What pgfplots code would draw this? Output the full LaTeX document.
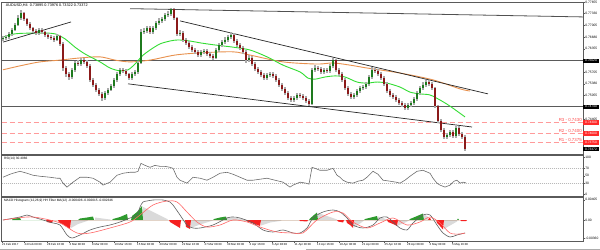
\documentclass[border=0pt]{standalone}
\usepackage{fontspec}
\setmainfont{Liberation Sans}
\usepackage{pgfplots}
\usepackage{pgfplotstable}
\pgfplotsset{compat=1.18}

\definecolor{candleup}{HTML}{1E7A1E}
\definecolor{candledn}{HTML}{8B1A1A}
\definecolor{wick}{HTML}{AAAAAA}
\definecolor{magreen}{HTML}{33DD33}
\definecolor{maorange}{HTML}{E8914E}
\definecolor{rline}{HTML}{FF9A9A}
\definecolor{rtext}{HTML}{FF4A4A}
\definecolor{rbox}{HTML}{FF2A2A}
\definecolor{histgreen}{HTML}{2E9A2E}
\definecolor{histred}{HTML}{F52020}
\definecolor{histgray}{HTML}{DADADA}
\definecolor{frame}{HTML}{5A5A5A}
\definecolor{trend}{HTML}{262626}

\pgfplotstableread{
x o c h l
3 .7663 .7665 .7671 .7656
6 .7665 .7668 .7675 .7660
9 .7668 .7677 .7683 .7664
12 .7677 .7688 .7694 .7672
15 .7688 .7702 .7708 .7684
18 .7702 .7721 .7728 .7698
21 .7721 .7735 .7742 .7716
24 .7735 .7718 .7739 .7712
27 .7718 .7704 .7722 .7698
30 .7704 .7693 .7709 .7688
33 .7693 .7685 .7697 .7679
36 .7685 .7679 .7690 .7673
39 .7679 .7688 .7694 .7675
42 .7688 .7682 .7693 .7677
45 .7682 .7674 .7686 .7668
48 .7674 .7668 .7679 .7662
51 .7668 .7665 .7673 .7659
54 .7665 .7660 .7670 .7654
57 .7660 .7671 .7677 .7656
60 .7671 .7649 .7675 .7643
63 .7649 .7582 .7653 .7575
66 .7582 .7565 .7588 .7558
69 .7565 .7557 .7570 .7550
72 .7557 .7577 .7582 .7552
75 .7577 .7596 .7601 .7572
78 .7596 .7593 .7603 .7587
81 .7593 .7604 .7610 .7588
84 .7604 .7599 .7609 .7593
87 .7599 .7588 .7603 .7582
90 .7588 .7549 .7592 .7543
93 .7549 .7535 .7554 .7529
96 .7535 .7521 .7540 .7515
99 .7521 .7510 .7526 .7504
102 .7510 .7499 .7514 .7490
105 .7499 .7513 .7518 .7494
108 .7513 .7521 .7527 .7508
111 .7521 .7532 .7538 .7517
114 .7532 .7549 .7555 .7527
117 .7549 .7565 .7571 .7544
120 .7565 .7577 .7583 .7560
123 .7577 .7574 .7582 .7568
126 .7574 .7565 .7579 .7559
129 .7565 .7554 .7569 .7548
132 .7554 .7565 .7571 .7549
135 .7565 .7571 .7577 .7560
138 .7571 .7596 .7602 .7566
141 .7596 .7682 .7690 .7592
144 .7682 .7685 .7693 .7676
147 .7685 .7693 .7700 .7679
150 .7693 .7682 .7698 .7676
153 .7682 .7693 .7699 .7677
156 .7693 .7707 .7713 .7688
159 .7707 .7713 .7720 .7701
162 .7713 .7718 .7725 .7708
165 .7718 .7729 .7736 .7713
168 .7729 .7732 .7740 .7723
171 .7732 .7746 .7750 .7727
174 .7746 .7721 .7749 .7715
177 .7721 .7677 .7725 .7670
180 .7677 .7679 .7687 .7671
183 .7679 .7660 .7684 .7654
186 .7660 .7652 .7665 .7646
189 .7652 .7640 .7657 .7634
192 .7640 .7632 .7645 .7626
195 .7632 .7627 .7638 .7621
198 .7627 .7618 .7632 .7612
201 .7618 .7627 .7633 .7613
204 .7627 .7629 .7636 .7622
207 .7629 .7621 .7634 .7615
210 .7621 .7615 .7626 .7609
213 .7615 .7610 .7620 .7603
216 .7610 .7632 .7638 .7606
219 .7632 .7646 .7652 .7627
222 .7646 .7654 .7660 .7641
225 .7654 .7660 .7667 .7649
228 .7660 .7668 .7675 .7655
231 .7668 .7674 .7681 .7663
234 .7674 .7657 .7679 .7651
237 .7657 .7646 .7662 .7640
240 .7646 .7638 .7651 .7632
243 .7638 .7627 .7643 .7621
246 .7627 .7604 .7631 .7597
249 .7604 .7610 .7617 .7599
252 .7610 .7593 .7615 .7587
255 .7593 .7579 .7598 .7573
258 .7579 .7571 .7584 .7565
261 .7571 .7563 .7576 .7557
264 .7563 .7554 .7568 .7548
267 .7554 .7563 .7569 .7549
270 .7563 .7565 .7572 .7557
273 .7565 .7560 .7571 .7555
276 .7560 .7549 .7565 .7543
279 .7549 .7535 .7554 .7529
282 .7535 .7524 .7540 .7518
285 .7524 .7513 .7529 .7507
288 .7513 .7499 .7518 .7493
291 .7499 .7493 .7504 .7487
294 .7493 .7499 .7505 .7488
297 .7499 .7507 .7513 .7494
300 .7507 .7504 .7512 .7498
303 .7504 .7499 .7509 .7493
306 .7499 .7490 .7504 .7485
309 .7490 .7482 .7495 .7477
312 .7482 .7577 .7583 .7479
315 .7577 .7582 .7589 .7571
318 .7582 .7579 .7587 .7573
321 .7579 .7571 .7584 .7565
324 .7571 .7577 .7583 .7566
327 .7577 .7574 .7582 .7568
330 .7574 .7588 .7594 .7569
333 .7588 .7604 .7610 .7583
336 .7604 .7577 .7608 .7571
339 .7577 .7565 .7582 .7559
342 .7565 .7549 .7570 .7543
345 .7549 .7526 .7554 .7520
348 .7526 .7510 .7531 .7504
351 .7510 .7501 .7515 .7495
354 .7501 .7507 .7513 .7496
357 .7507 .7518 .7524 .7502
360 .7518 .7526 .7532 .7513
363 .7526 .7529 .7536 .7521
366 .7529 .7538 .7544 .7524
369 .7538 .7557 .7563 .7533
372 .7557 .7577 .7584 .7552
375 .7577 .7574 .7582 .7568
378 .7574 .7565 .7579 .7559
381 .7565 .7554 .7570 .7548
384 .7554 .7538 .7559 .7532
387 .7538 .7518 .7543 .7512
390 .7518 .7507 .7523 .7501
393 .7507 .7501 .7512 .7495
396 .7501 .7493 .7506 .7487
399 .7493 .7485 .7498 .7479
402 .7485 .7479 .7490 .7473
405 .7479 .7471 .7484 .7465
408 .7471 .7479 .7485 .7466
411 .7479 .7485 .7491 .7474
414 .7485 .7496 .7502 .7480
417 .7496 .7513 .7519 .7491
420 .7513 .7526 .7532 .7508
423 .7526 .7535 .7542 .7521
426 .7535 .7543 .7550 .7530
429 .7543 .7538 .7548 .7532
432 .7538 .7526 .7543 .7520
435 .7526 .7476 .7530 .7470
438 .7476 .7435 .7480 .7429
441 .7435 .7410 .7440 .7404
444 .7410 .7390 .7415 .7384
447 .7390 .7396 .7402 .7385
450 .7396 .7404 .7410 .7390
453 .7404 .7393 .7409 .7387
456 .7393 .7415 .7421 .7388
459 .7415 .7399 .7420 .7393
462 .7399 .7390 .7405 .7384
465 .7390 .7357 .7395 .7352
}\candles

\pgfplotsset{
  panel/.style={
    scale only axis, width=581.5bp, xmin=1.5, xmax=583,
    axis line style={draw=frame, line width=0.9bp},
    xtick=\empty, ytick pos=right, yticklabel pos=right,
    tick align=outside, major tick length=1.6bp,
    tick style={draw=frame, line width=0.4bp},
    yticklabel style={font=\fontsize{3.3}{3.6}\selectfont, anchor=west, inner sep=0.4bp, xshift=0.2bp},
    clip mode=individual,
    /pgf/number format/assume math mode=true,
  },
}
\tikzset{
  rlab/.style={anchor=south east, text=rtext, font=\fontsize{4.4}{5}\selectfont, inner sep=0.6bp},
  pbox/.style={anchor=west, text=white, font=\fontsize{3.3}{3.6}\selectfont, inner sep=0.5bp, minimum width=15.5bp, minimum height=4.6bp},
}

\begin{document}
\begin{tikzpicture}
\path[use as bounding box, fill=white] (0,0) rectangle (600bp,250bp);
\draw[gray!65, line width=1.2bp] (0,0.6bp) -- (280bp,0.6bp) (306bp,0.6bp) -- (600bp,0.6bp);

% ---------------- main price panel ----------------
\begin{axis}[panel, at={(1.5bp,95.7bp)}, anchor=south west, height=152.3bp,
  ymin=0.73421, ymax=0.77655,
  ytick={0.77655,0.77330,0.77005,0.76680,0.76355,0.75705,0.75380,0.75055,0.74405},
  yticklabels={0.77655,0.77330,0.77005,0.76680,0.76355,0.75705,0.75380,0.75055,0.74405}]

% support / resistance levels
\addplot[rline, line width=0.9bp, dash pattern=on 5bp off 3bp] coordinates {(1.5,0.7430)(583,0.7430)};
\addplot[rline, line width=0.9bp, dash pattern=on 5bp off 3bp] coordinates {(1.5,0.7400)(583,0.7400)};
\addplot[rline, line width=0.9bp, dash pattern=on 5bp off 3bp] coordinates {(1.5,0.7375)(583,0.7375)};
\addplot[frame, line width=1.0bp] coordinates {(1.5,0.7602)(583,0.7602)};
\addplot[frame, line width=1.0bp] coordinates {(1.5,0.7474)(583,0.7474)};

% moving averages
\addplot[maorange, line width=0.9bp, smooth] coordinates {
(3,0.7577)(20,0.7588)(40,0.7599)(60,0.7604)(80,0.7610)(100,0.7613)(115,0.7604)(130,0.7599)
(150,0.7604)(175,0.7618)(200,0.7624)(233,0.7627)(250,0.7618)(283,0.7599)(317,0.7593)(333,0.7596)
(350,0.7590)(367,0.7582)(400,0.7568)(433,0.7549)(460,0.7524)(470,0.7518)};
\addplot[magreen, line width=0.9bp, smooth] coordinates {
(3,0.7668)(15,0.7677)(30,0.7679)(45,0.7679)(55,0.7677)(65,0.7663)(75,0.7640)(85,0.7621)
(100,0.7599)(110,0.7582)(120,0.7574)(128,0.7577)(135,0.7593)(142,0.7615)(150,0.7632)(160,0.7649)
(170,0.7657)(178,0.7660)(190,0.7657)(200,0.7652)(215,0.7646)(233,0.7640)(250,0.7632)(267,0.7613)
(283,0.7590)(300,0.7571)(308,0.7554)(315,0.7551)(325,0.7557)(335,0.7560)(345,0.7557)(357,0.7543)
(367,0.7540)(377,0.7543)(387,0.7540)(400,0.7529)(410,0.7515)(420,0.7510)(430,0.7507)(440,0.7493)
(450,0.7476)(465,0.7446)};

% trend lines
\addplot[trend, line width=0.7bp] coordinates {(3,0.7654)(71,0.7710)};
\addplot[trend!80, line width=0.8bp] coordinates {(130,0.7747)(583,0.7724)};
\addplot[trend, line width=0.7bp] coordinates {(180,0.7713)(488,0.7510)};
\addplot[trend, line width=0.7bp] coordinates {(128,0.7538)(472,0.7418)};

% candles: wicks
\addplot[draw=none, mark=none, error bars/.cd, y dir=both, y explicit, error mark=none,
  error bar style={draw=wick, line width=1.3bp}]
  table[x=x, y=c, y error plus expr=\thisrow{h}-\thisrow{c}, y error minus expr=\thisrow{c}-\thisrow{l}] {\candles};
% bodies up
\addplot[draw=none, mark=none, restrict expr to domain={\thisrow{c}-\thisrow{o}}{0:1},
  error bars/.cd, y dir=both, y explicit, error mark=none,
  error bar style={draw=candleup, line width=1.5bp}]
  table[x=x, y=c, y error plus expr=0, y error minus expr=\thisrow{c}-\thisrow{o}] {\candles};
% bodies down
\addplot[draw=none, mark=none, restrict expr to domain={\thisrow{c}-\thisrow{o}}{-1:-0.00001},
  error bars/.cd, y dir=both, y explicit, error mark=none,
  error bar style={draw=candledn, line width=1.5bp}]
  table[x=x, y=c, y error plus expr=\thisrow{o}-\thisrow{c}, y error minus expr=0] {\candles};

\node[rlab] at (axis cs:582.5,0.7430) {R3 - 0.7430};
\node[rlab] at (axis cs:582.5,0.7400) {R2 - 0.7400};
\node[rlab] at (axis cs:582.5,0.7375) {R1 - 0.7375};

\node[pbox, fill=black] at (axis cs:583,0.7602) {0.76020};
\node[pbox, fill=black] at (axis cs:583,0.7474) {0.74740};
\node[pbox, fill=rbox] at (axis cs:583,0.7430) {0.74300};
\node[pbox, fill=rbox] at (axis cs:583,0.7400) {0.74000};
\node[pbox, fill=rbox] at (axis cs:583,0.7375) {0.73750};
\node[pbox, fill=black] at (axis cs:583,0.7357) {0.73372};

\node[anchor=north west, font=\fontsize{3.8}{4.2}\selectfont, inner sep=0.6bp] at (rel axis cs:0.006,0.993)
  {AUDUSD,H4 \ 0.73895 0.73976 0.73322 0.73372};
\end{axis}

% ---------------- RSI panel ----------------
\begin{axis}[panel, at={(1.5bp,53.5bp)}, anchor=south west, height=41bp,
  ymin=-6.8, ymax=105.4,
  ytick={0,30,50,70,100}, yticklabels={0,30,50,70,100}]
\addplot[gray!55, line width=0.5bp, dash pattern=on 0.8bp off 1.2bp] coordinates {(1.5,70)(583,70)};
\addplot[gray!55, line width=0.5bp, dash pattern=on 0.8bp off 1.2bp] coordinates {(1.5,30)(583,30)};
\addplot[gray!85!black, line width=0.6bp] coordinates {
(3,45.9)(10,54.1)(13,56.8)(20,62.2)(27,56.8)(33,51.4)(40,48.6)(50,45.9)(57,43.2)(60,43.2)
(63,29.7)(67,18.9)(73,32.4)(80,45.9)(87,45.9)(93,43.2)(100,32.4)(103,24.3)(110,32.4)(117,51.4)
(123,56.8)(130,59.5)(135,59.5)(138,62)(141,83.8)(145,78.4)(150,73.0)(155,78.4)(160,75.7)(165,75.7)
(170,73.0)(173,70.3)(177,45.9)(180,37.8)(187,29.7)(193,45.9)(200,43.2)(207,37.8)(213,45.9)(220,56.8)
(227,59.5)(233,54.1)(240,45.9)(247,37.8)(253,37.8)(260,40.5)(267,43.2)(275,37.8)(283,32.4)(290,18.9)
(293,24.3)(300,32.4)(306,29.7)(309,27.0)(312,73.0)(315,70.3)(320,64.9)(327,64.9)(333,70.3)(337,51.4)
(340,45.9)(343,37.8)(347,32.4)(353,29.7)(358,35.1)(363,37.8)(367,45.9)(373,62.2)(378,54.1)(383,37.8)
(390,35.1)(396,32.4)(400,29.7)(405,37.8)(410,48.6)(417,62.2)(423,64.9)(430,56.8)(433,43.2)(437,29.7)
(440,24.3)(445,18.9)(450,24.3)(454,35.1)(457,37.8)(460,29.7)(463,32.4)(466,30.4)};
\node[anchor=north west, font=\fontsize{3.2}{3.6}\selectfont, inner sep=0.6bp] at (rel axis cs:0.003,0.985) {RSI(14) 30.4066};
\end{axis}

% ---------------- MACD panel ----------------
\begin{axis}[panel, at={(1.5bp,9bp)}, anchor=south west, height=43.5bp,
  ymin=-4.2, ymax=4.5,
  ytick={-3.6,0,4.05}, yticklabels={-0.00360,0.00,0.00405},
  xtick={2,24.5,47,69.5,92,114.5,137,159.5,182,204.5,227,249.5,272,294.5,317,339.5,362,384.5,407,429.5,452},
  xticklabels={21 Feb 2017,24 Feb 00:00,28 Feb 16:00,3 Mar 08:00,8 Mar 00:00,10 Mar 16:00,15 Mar 08:00,20 Mar 00:00,22 Mar 16:00,27 Mar 08:00,30 Mar 00:00,3 Apr 16:00,6 Apr 08:00,11 Apr 00:00,13 Apr 16:00,18 Apr 08:00,21 Apr 00:00,25 Apr 16:00,28 Apr 08:00,3 May 00:00,5 May 16:00},
  xtick pos=bottom,
  xticklabel style={font=\fontsize{2.9}{3.2}\selectfont, anchor=north west, inner sep=0.3bp, xshift=-0.3bp}]
\addplot[fill=histgray, draw=none] coordinates {
(71,0)(71,-1.6)(78,-0.8)(87,-0.2)(88,0)(95,0)(95,0.5)(110,0.1)(111,0)(143,0)(143,2.6)(155,1.4)(167,0.2)(168,0)
(191,0)(191,-1.6)(200,-0.9)(213,-0.1)(213,0)(227,0)(227,0.6)(240,0.3)(246,0.1)(246,0)(261,0)(261,-1.1)(270,-0.5)(280,-0.2)(282,0)
(318,0)(318,1.4)(327,0.8)(337,0.1)(337,0)(354,0)(354,-1.5)(360,-0.7)(364,-0.1)(364,0)(378,0)(378,0.7)(383,0.4)(387,0.1)(387,0)
(398,0)(398,-1.1)(404,-0.6)(409,-0.1)(409,0)(424,0)(424,1.2)(428,0.6)(428,0)(444,0)(444,-1.8)(450,-1.1)(457,-0.3)(457,0)};
\addplot[fill=histgreen, draw=none] coordinates {
(12,0)(13,0.3)(20,0.4)(21,0)(78,0)(80,0.3)(87,0.5)(93,0.7)(94,0)(112,0)(113,0.2)(120,0.6)(127,1.2)(128,0)
(131,0)(132,0.8)(137,1.6)(142,2.8)(143,0)(213,0)(214,0.2)(220,0.5)(226,0.7)(227,0)(309,0)(310,0.3)(314,1.0)(317,1.5)(318,0)
(364,0)(365,0.2)(371,0.5)(377,0.8)(378,0)(409,0)(410,0.2)(416,0.7)(423,1.3)(424,0)(457,0)(458,0.3)(459,0)};
\addplot[fill=histred, draw=none] coordinates {
(46,0)(47,-0.4)(52,-0.6)(53,0)(58,0)(59,-0.5)(64,-1.0)(70,-1.8)(71,0)(169,0)(170,-0.4)(175,-1.0)(180,-1.6)(181,0)
(185,0)(186,-1.4)(190,-1.8)(191,0)(246,0)(247,-0.3)(253,-0.7)(260,-1.2)(261,0)(299,0)(300,-0.2)(307,-0.3)(308,0)
(337,0)(338,-0.3)(343,-0.5)(344,0)(346,0)(347,-0.6)(350,-1.0)(353,-1.6)(354,0)(387,0)(388,-0.4)(393,-0.8)(397,-1.2)(398,0)
(428,0)(429,0.4)(430,0.4)(431,0)(436,0)(437,-0.6)(440,-1.2)(443,-1.9)(444,0)(460,0)(461,-0.2)(466,-0.2)(467,0)};
\addplot[gray!75!black, line width=0.6bp, smooth] coordinates {
(3,0)(20,0.6)(27,1.0)(33,0.6)(43,0)(53,-0.6)(60,-1.0)(67,-3.0)(72,-3.6)(80,-3.0)(90,-2.0)(100,-1.4)
(110,-1.0)(120,-0.4)(130,0.4)(137,1.0)(140,2.6)(143,3.6)(147,3.8)(153,4.0)(163,4.0)(170,3.6)(173,3.0)
(180,1.0)(187,-1.0)(193,-1.6)(200,-1.6)(213,-1.0)(227,0.4)(233,0.6)(240,0.4)(253,-0.6)(263,-2.0)
(273,-2.4)(283,-2.0)(293,-2.6)(300,-2.6)(307,-1.6)(313,0.4)(323,1.6)(333,2.0)(340,1.6)(347,0.4)
(353,-1.0)(363,-1.6)(373,-1.0)(380,0.4)(387,0.6)(393,-0.4)(400,-1.6)(407,-2.0)(413,-0.6)(423,1.0)
(430,1.0)(437,-1.0)(443,-2.6)(450,-3.4)(457,-3.0)(465,-2.6)};
\addplot[red!60, line width=0.6bp, smooth] coordinates {
(3,0)(27,0.6)(40,0.4)(60,-0.6)(77,-2.6)(90,-2.6)(110,-1.6)(130,-0.4)(140,1.0)(153,3.0)(167,3.8)
(177,3.6)(187,1.6)(197,-0.4)(207,-1.4)(220,-1.0)(233,0)(247,-0.4)(260,-1.4)(277,-2.4)(293,-2.6)
(303,-2.6)(317,0)(333,1.6)(343,1.4)(353,-0.4)(367,-1.6)(380,-0.6)(393,0.4)(407,-1.0)(420,-0.4)
(430,0.6)(440,-0.6)(450,-2.6)(460,-2.8)(465,-2.6)};
\node[anchor=north west, font=\fontsize{3.2}{3.6}\selectfont, inner sep=0.6bp] at (rel axis cs:0.003,0.985)
  {MACD Histogram (12,26,9) HH Filter MA(12) -0.000406 -0.002015 -0.002346};
\end{axis}
\end{tikzpicture}
\end{document}
